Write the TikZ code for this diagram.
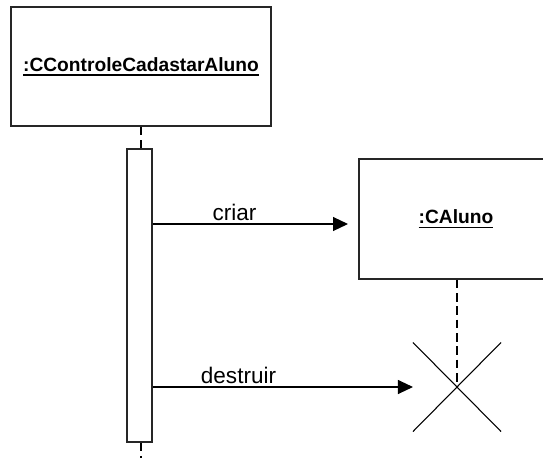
\documentclass[tikz,border=0pt]{standalone}
\usepackage{fontspec}
\setmainfont{Liberation Sans}
\usetikzlibrary{arrows.meta,shapes.misc}
\newcommand\myul[1]{\setbox0\hbox{#1}\rlap{\rule[-3.4pt]{\wd0}{1.2pt}}\box0}
\tikzset{
  objbox/.style={draw=black!85,line width=1pt,fill=white,inner sep=0pt,
    font=\fontsize{14.4}{17}\selectfont\bfseries},
  actbox/.style={draw=black!85,line width=0.9pt,fill=white,inner sep=0pt,
    minimum width=18.75pt,minimum height=219.75pt},
  lifeline/.style={line width=1.6pt,dash pattern=on 6.5pt off 3.5pt},
  msg/.style={line width=0.8pt,-{Triangle[length=11.25pt,width=10.5pt]}},
  msglabel/.style={anchor=base,inner sep=0pt,font=\fontsize{16.9}{20}\selectfont},
  killmark/.style={cross out,draw,line width=0.8pt,inner sep=0pt,
    minimum width=65.25pt,minimum height=66pt},
}
\begin{document}
\begin{tikzpicture}[x=0.75pt,y=-0.75pt]
\useasboundingbox (0,0) rectangle (543,458);
\clip (0,0) rectangle (543,458);
\node[objbox,minimum width=195pt,minimum height=89.25pt] (ctrl) at (141,66.5) {\myul{:CControleCadastarAluno}};
\node[objbox,minimum width=145.5pt,minimum height=90pt] (aluno) at (456,219) {\myul{:CAluno}};
\node[actbox] (act) at (139.5,295.5) {};
\node[killmark] (kill) at (457,387) {};
\coordinate (lifeend) at (141,458);
\draw[lifeline] (ctrl.south) -- (ctrl.south |- act.north);
\draw[lifeline] (ctrl.south |- act.south) -- (lifeend);
\draw[lifeline] (aluno.south -| kill.center) -- (kill.center);
% messages
\coordinate (c1) at (152,224);
\coordinate (c2) at (348,224);
\draw[msg] (act.east |- c1) -- (c2);
\node[msglabel] (lcriar) at (234.5,220) {criar};
\draw[msg] (act.east |- kill.center) -- (kill.west);
\node[msglabel] (ldestruir) at (238.5,383) {destruir};
\end{tikzpicture}
\end{document}
